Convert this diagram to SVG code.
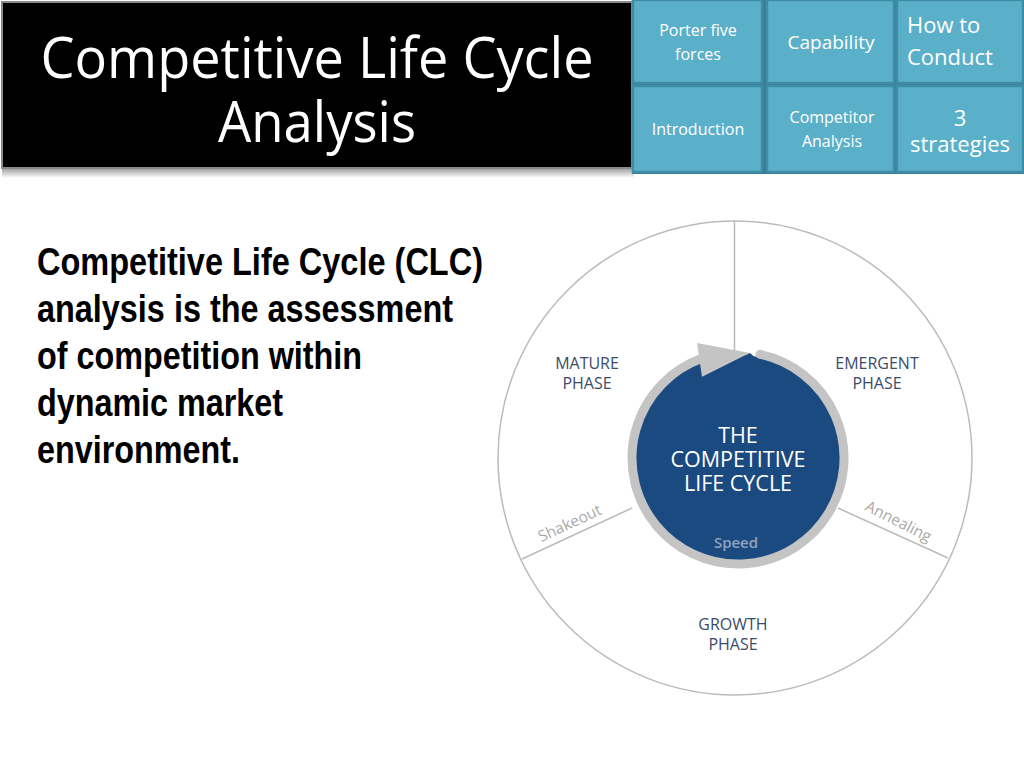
<svg xmlns="http://www.w3.org/2000/svg" width="1024" height="768" viewBox="0 0 1024 768">
<defs>
<linearGradient id="shadow" x1="0" y1="0" x2="0" y2="1">
<stop offset="0" stop-color="#9a9a9a"/>
<stop offset="1" stop-color="#ffffff"/>
</linearGradient>
</defs>
<style>
.tile{fill:#5BB0C9;stroke:#3F8CA6;stroke-width:2.5}
.tt{font-family:"Open Sans","Noto Sans",sans-serif;fill:#ffffff;text-anchor:middle}
.title{font-family:"Open Sans","Noto Sans",sans-serif;fill:#ffffff;font-size:56px;text-anchor:middle}
.body{font-family:"Liberation Sans Narrow","Liberation Sans",Arial,sans-serif;font-weight:bold;font-size:38px;fill:#000}
.phase{font-family:"Open Sans","Noto Sans",sans-serif;font-size:16px;fill:#3B4B69;text-anchor:middle}
.center{font-family:"Open Sans","Noto Sans",sans-serif;font-size:21.5px;fill:#ffffff;text-anchor:middle}
.trans{font-family:"Open Sans","Noto Sans",sans-serif;font-size:15.5px;fill:#AAAAAA;text-anchor:middle}
.div{stroke:#BBBBBB;stroke-width:1.5;fill:none}
</style>
<rect width="1024" height="768" fill="#ffffff"/>

<g id="title-box">
<rect x="2" y="168" width="632" height="10" fill="url(#shadow)"/>
<rect x="2" y="2" width="630" height="166" fill="#000000" stroke="#8a8a8a" stroke-width="2"/>
<text class="title" x="317" y="78" textLength="553" lengthAdjust="spacingAndGlyphs">Competitive Life Cycle</text>
<text class="title" x="317" y="142" textLength="198" lengthAdjust="spacingAndGlyphs">Analysis</text>
</g>

<rect x="632" y="0" width="392" height="174" fill="#3D7B90"/>
<g id="tile-porter">
<rect class="tile" x="633" y="0" width="129" height="83"/>
<text class="tt" font-size="16" x="698" y="36">Porter five<tspan x="698" dy="24">forces</tspan></text>
</g>
<g id="tile-capability">
<rect class="tile" x="767" y="0" width="127" height="83"/>
<text class="tt" font-size="19" x="831" y="49">Capability</text>
</g>
<g id="tile-howto">
<rect class="tile" x="897" y="0" width="126" height="83"/>
<text class="tt" font-size="22" x="907" y="33" style="text-anchor:start">How to<tspan x="907" dy="32">Conduct</tspan></text>
</g>
<g id="tile-intro">
<rect class="tile" x="633" y="86" width="129" height="86"/>
<text class="tt" font-size="16" x="698" y="135">Introduction</text>
</g>
<g id="tile-competitor">
<rect class="tile" x="767" y="86" width="127" height="86"/>
<text class="tt" font-size="16" x="832" y="123">Competitor<tspan x="832" dy="24">Analysis</tspan></text>
</g>
<g id="tile-strategies">
<rect class="tile" x="897" y="86" width="126" height="86"/>
<text class="tt" font-size="22" x="960" y="126">3<tspan x="960" dy="26">strategies</tspan></text>
</g>

<g id="body-text">
<text class="body" x="37" y="275" textLength="446" lengthAdjust="spacingAndGlyphs">Competitive Life Cycle (CLC)</text>
<text class="body" x="37" y="322" textLength="416" lengthAdjust="spacingAndGlyphs">analysis is the assessment</text>
<text class="body" x="37" y="369" textLength="325" lengthAdjust="spacingAndGlyphs">of competition within</text>
<text class="body" x="37" y="416" textLength="246" lengthAdjust="spacingAndGlyphs">dynamic market</text>
<text class="body" x="37" y="463" textLength="203" lengthAdjust="spacingAndGlyphs">environment.</text>
</g>

<g id="connectors">
<circle class="div" cx="735" cy="458" r="237"/>
<line class="div" x1="734.5" y1="221" x2="734.5" y2="352"/>
<line class="div" x1="522" y1="559" x2="632" y2="508"/>
<line class="div" x1="838" y1="508" x2="948" y2="558"/>
</g>

<g id="phase-labels">
<text class="phase" x="587" y="369">MATURE<tspan x="587" dy="20">PHASE</tspan></text>
<text class="phase" x="877" y="369">EMERGENT<tspan x="877" dy="20">PHASE</tspan></text>
<text class="phase" x="733" y="630">GROWTH<tspan x="733" dy="20">PHASE</tspan></text>
<text class="trans" transform="translate(572,528) rotate(-25)">Shakeout</text>
<text class="trans" transform="translate(896,526) rotate(27)">Annealing</text>
</g>

<g id="life-cycle">
<circle cx="738" cy="458" r="103" fill="#1B4A80"/>
<path d="M760 354.3 A106 106 0 1 1 702 358.3" fill="none" stroke="#C4C4C4" stroke-width="9" stroke-linecap="round"/>
<polygon points="697,343 750,353 702,377" fill="#C4C4C4"/>
<polygon points="702,377 750,353 758,360 745,378" fill="#1B4A80"/>
<text class="center" x="738" y="443">THE<tspan x="738" dy="24">COMPETITIVE</tspan><tspan x="738" dy="24">LIFE CYCLE</tspan></text>
<text x="736" y="548" font-family="Open Sans, Noto Sans, sans-serif" font-size="15" font-weight="600" fill="#8FA3BF" text-anchor="middle">Speed</text>
</g>
</svg>
